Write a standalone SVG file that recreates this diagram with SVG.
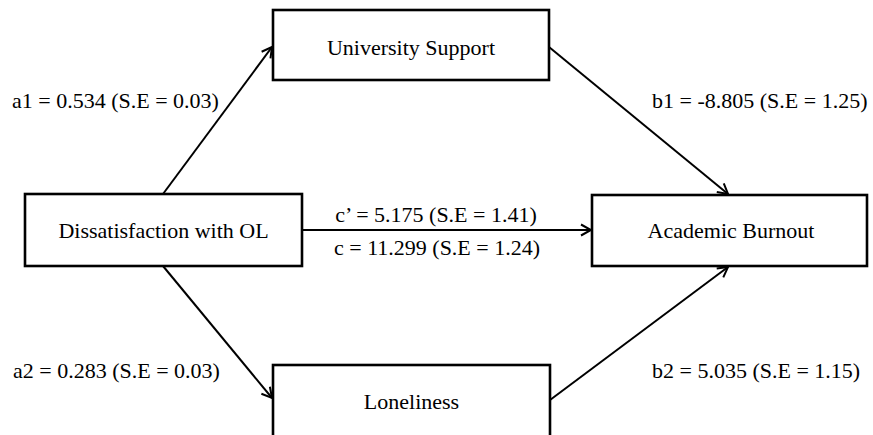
<svg xmlns="http://www.w3.org/2000/svg" width="873" height="435" viewBox="0 0 873 435">
<style>
.box{fill:#fff;stroke:#000;stroke-width:2.6}
.lbl{font-family:"Liberation Serif","Times New Roman",serif;font-size:22px;fill:#000}
.mid{text-anchor:middle}
.edge{fill:none;stroke:#000;stroke-width:2;marker-end:url(#ah)}
</style>
<defs>
<marker id="ah" markerUnits="userSpaceOnUse" markerWidth="14" markerHeight="14" viewBox="0 0 14 14" refX="12" refY="7" orient="auto">
<path d="M2,1.5 L12,7 L2,12.5" fill="none" stroke="#000" stroke-width="2"/>
</marker>
</defs>
<rect width="873" height="435" fill="#fff"/>
<g id="connectors">
<line class="edge" x1="163" y1="194" x2="272" y2="47"/>
<line class="edge" x1="549" y1="47" x2="728" y2="194"/>
<line class="edge" x1="302" y1="230" x2="591" y2="230"/>
<line class="edge" x1="163" y1="266" x2="272" y2="398"/>
<line class="edge" x1="550" y1="400" x2="728" y2="267"/>
</g>
<g id="node-university-support">
<rect class="box" x="273" y="10" width="276" height="70"/>
<text class="lbl mid" x="411" y="55">University Support</text>
</g>
<g id="node-dissatisfaction">
<rect class="box" x="25" y="194" width="277" height="72"/>
<text class="lbl mid" x="163.5" y="238">Dissatisfaction with OL</text>
</g>
<g id="node-academic-burnout">
<rect class="box" x="592" y="195" width="275" height="71"/>
<text class="lbl mid" x="731" y="238">Academic Burnout</text>
</g>
<g id="node-loneliness">
<rect class="box" x="273" y="365" width="277" height="72"/>
<text class="lbl mid" x="411.5" y="409">Loneliness</text>
</g>
<g id="labels">
<text class="lbl" x="12" y="108">a1 = 0.534 (S.E = 0.03)</text>
<text class="lbl" x="652" y="108">b1 = -8.805 (S.E = 1.25)</text>
<text class="lbl mid" x="436" y="222">c’ = 5.175 (S.E = 1.41)</text>
<text class="lbl mid" x="437" y="255">c = 11.299 (S.E = 1.24)</text>
<text class="lbl" x="13" y="378">a2 = 0.283 (S.E = 0.03)</text>
<text class="lbl" x="652" y="378">b2 = 5.035 (S.E = 1.15)</text>
</g>
</svg>
